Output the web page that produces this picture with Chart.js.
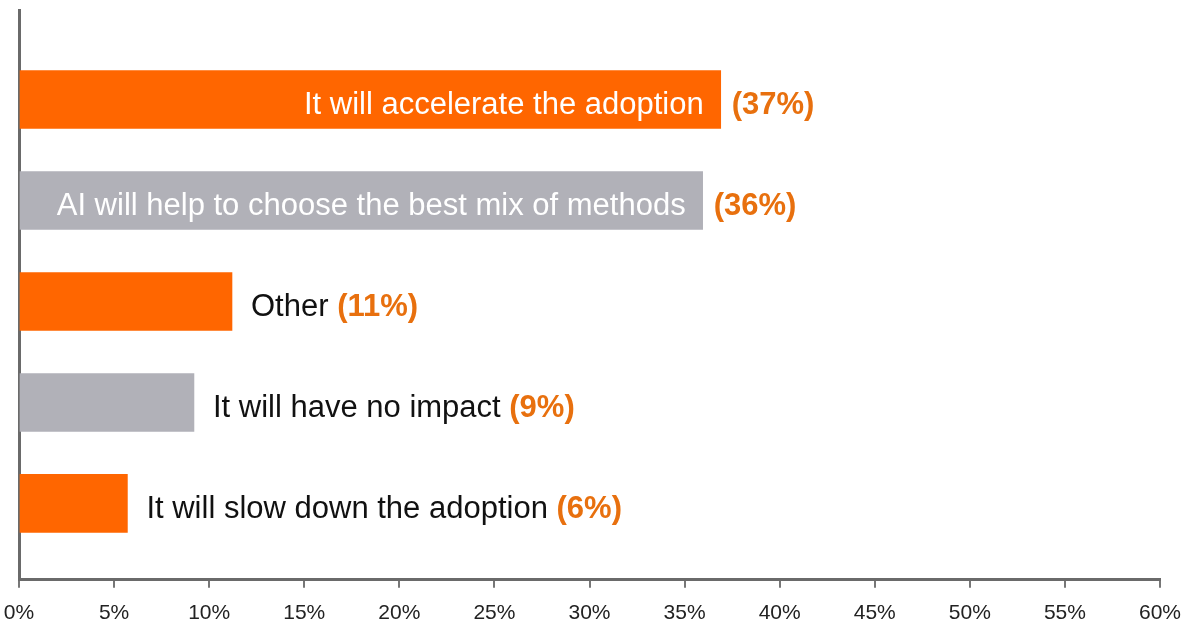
<!DOCTYPE html>
<html>
<head>
<meta charset="utf-8">
<script src="https://cdn.jsdelivr.net/npm/chart.js@4"></script>
<style>
html,body{margin:0;padding:0;background:#fff}
#wrap{width:1198px;height:625px;position:relative}
</style>
</head>
<body>
<div id="wrap"><canvas id="chart"></canvas></div>
<script>
// answers, top to bottom
let answers=[
"It will accelerate the adoption",
"AI will help to choose the best mix of methods",
"Other",
"It will have no impact",
"It will slow down the adoption"
]

let shares=[36.9,35.95,11.2,9.2,5.7]
let shareLabels=["(37%)","(36%)","(11%)","(9%)","(6%)"]
let barColors=["#FF6600","#B1B1B8","#FF6600","#B1B1B8","#FF6600"]
let ticks=[0,5,10,15,20,25,30,35,40,45,50,55,60]

let textFont="31px 'Liberation Sans', Arial, sans-serif"
let pctFont="bold 31px 'Liberation Sans', Arial, sans-serif"

// labels next to / inside bars
let barText={
id:"barText",
afterDatasetsDraw(chart){
let ctx=chart.ctx
let bars=chart.getDatasetMeta(0).data
ctx.save()
ctx.textBaseline="alphabetic"
bars.forEach((bar,i)=>{
let y=bar.y+15
if(shares[i]>20){
ctx.font=textFont
ctx.fillStyle="#fff"
ctx.textAlign="right"
ctx.fillText(answers[i],bar.x-17,y)
ctx.font=pctFont
ctx.fillStyle="#E8700E"
ctx.textAlign="left"
ctx.fillText(shareLabels[i],bar.x+11,y)
}else{
ctx.font=textFont
ctx.fillStyle="#111"
ctx.textAlign="left"
let x=bar.x+19
ctx.fillText(answers[i],x,y)
let w=ctx.measureText(answers[i]+" ").width
ctx.font=pctFont
ctx.fillStyle="#E8700E"
ctx.fillText(shareLabels[i],x+w,y)
}
})
ctx.restore()
}
}

new Chart(document.getElementById("chart"),{
type:"bar",
data:{
datasets:[{
data:shares.map((v,i)=>({x:v,y:i})),
backgroundColor:barColors,
barThickness:58,
borderWidth:0
}]
},
options:{
indexAxis:"y",
responsive:true,
maintainAspectRatio:false,
animation:false,
layout:{padding:{top:10,left:19,right:38,bottom:-14}},
plugins:{legend:{display:false},tooltip:{enabled:false}},
scales:{
x:{
type:"linear",
min:0,
max:60,
afterBuildTicks:(s)=>{s.ticks=ticks.map(v=>({value:v}))},
afterFit:(s)=>{s.paddingLeft=0},
ticks:{
callback:(v)=>v+"%",
color:"#222",
font:{family:"'Liberation Sans', Arial, sans-serif",size:21},
padding:13,
maxRotation:0,
autoSkip:false
},
grid:{display:true,drawOnChartArea:false,drawTicks:true,tickLength:8,color:"#777",lineWidth:2},
border:{display:true,color:"#6a6a6a",width:3}
},
y:{
type:"linear",
reverse:true,
offset:false,
min:-0.886,
max:4.756,
ticks:{display:false},
grid:{display:false,drawTicks:false},
border:{display:true,color:"#6a6a6a",width:3}
}
}
},
plugins:[barText]
})
</script>
</body>
</html>
